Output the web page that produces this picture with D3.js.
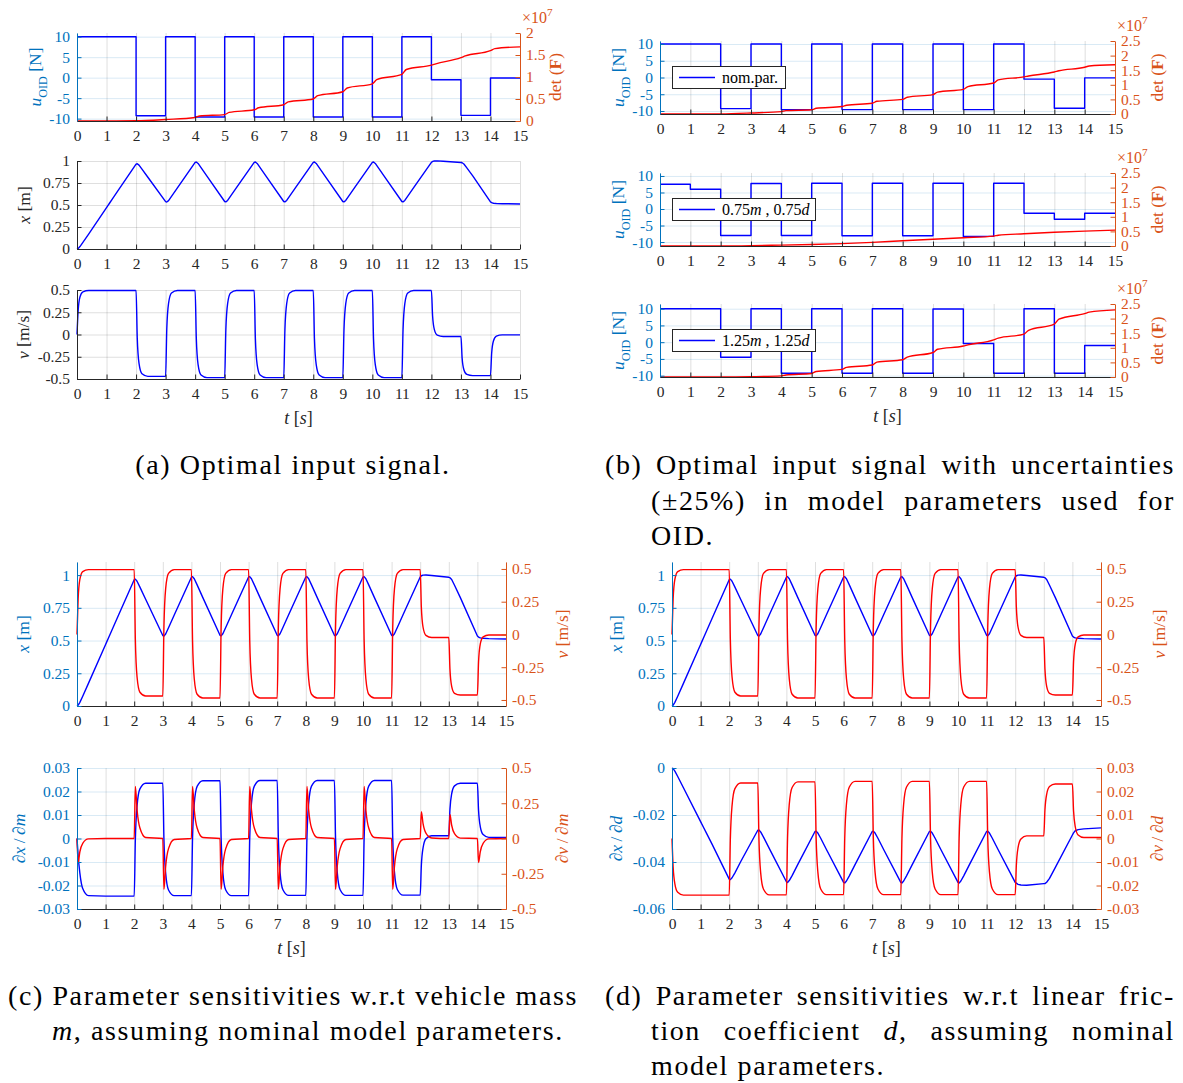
<!DOCTYPE html>
<html>
<head>
<meta charset="utf-8">
<script src="https://cdn.jsdelivr.net/npm/d3@7"></script>
<style>
  body { margin: 0; background: #fff; }
  svg, text { font-family: "Liberation Serif", "DejaVu Serif", "Times New Roman", serif; }
</style>
</head>
<body>
<svg id="fig" width="1183" height="1083"></svg>
<script>
// ---------- data ----------
const tTicks = [0,1,2,3,4,5,6,7,8,9,10,11,12,13,14,15];

// input force per 1-second interval [N]
const uNom  = [10, 10, -9.3, 10, -9.6, 10, -9.6, 10, -9.6, 10, -9.6, 10, -0.5, -9.2, -0.1];
const uLow  = [7.5, 6.0, -8.0, 7.7, -8.0, 7.8, -8.1, 7.8, -8.1, 7.8, -8.3, 7.8, -1.3, -3.1, -1.3];
const uHigh = [10, 10, -4.5, 10, -9.3, 10, -9.3, 10, -9.3, 9.9, -0.4, -9.3, 10, -9.3, -1.0];

// det(F) in units of 1e7, as [t, value]
const detNom = [[0,0],[1,0],[2,0.005],[3,0.035],[4,0.08],[4.15,0.115],[5,0.145],[5.15,0.195],[6,0.255],[6.15,0.3],
  [7,0.37],[7.15,0.435],[8,0.5],[8.15,0.575],[9,0.665],[9.15,0.75],[10,0.845],[10.15,0.94],[11,1.06],[11.15,1.17],
  [12,1.27],[12.15,1.3],[13,1.44],[13.15,1.48],[14,1.6],[14.15,1.645],[15,1.685]];
const detLow = [[0,0],[2,0],[3,0.01],[4,0.03],[5,0.05],[6,0.08],[7,0.125],[8,0.18],[9,0.23],[10,0.285],[11,0.34],
  [11.15,0.37],[12,0.42],[13,0.47],[14,0.51],[15,0.545]];
const detHigh = [[0,0],[2,0],[3,0.01],[4,0.04],[4.15,0.07],[5,0.12],[5.15,0.19],[6,0.26],[6.15,0.33],[7,0.41],
  [7.15,0.51],[8,0.59],[8.15,0.68],[9,0.84],[9.15,0.95],[10,1.06],[10.15,1.1],[11,1.27],[11.15,1.33],[12,1.47],
  [12.15,1.6],[13,1.81],[13.15,1.98],[14,2.17],[14.15,2.22],[15,2.3]];

// simulation time samples
const tGrid = [0,0.04,0.1,0.2,0.4, 1,1.04,1.1,1.2,1.4, 2,2.04,2.1,2.2,2.4, 3,3.04,3.1,3.2,3.4,
  4,4.04,4.1,4.2,4.4, 5,5.04,5.1,5.2,5.4, 6,6.04,6.1,6.2,6.4, 7,7.04,7.1,7.2,7.4,
  8,8.04,8.1,8.2,8.4, 9,9.04,9.1,9.2,9.4, 10,10.04,10.1,10.2,10.4, 11,11.04,11.1,11.2,11.4,
  12,12.04,12.1,12.2,12.4, 13,13.04,13.1,13.2,13.4, 14,14.04,14.1,14.2,14.4, 15];

// position x [m]
const xNom = [0,0.006,0.028,0.075,0.173, 0.47,0.49,0.52,0.569,0.668, 0.965,0.969,0.953,0.908,0.815,
  0.538,0.534,0.55,0.598,0.695, 0.984,0.988,0.972,0.925,0.828, 0.54,0.536,0.552,0.6,0.697,
  0.985,0.988,0.972,0.925,0.828, 0.54,0.536,0.552,0.6,0.697, 0.985,0.988,0.972,0.925,0.828,
  0.54,0.536,0.552,0.6,0.697, 0.985,0.988,0.972,0.925,0.828, 0.54,0.536,0.552,0.6,0.697,
  0.985,0.995,1.0,1.001,0.997, 0.983,0.98,0.966,0.922,0.83, 0.535,0.527,0.52,0.517,0.515, 0.512];

// velocity v [m/s]
const vNom = [0,0.272,0.421,0.48,0.495, 0.495,0.495,0.495,0.495,0.495, 0.495,-0.036,-0.325,-0.441,-0.47,
  -0.47,0.061,0.35,0.466,0.495, 0.495,-0.044,-0.338,-0.456,-0.485, -0.485,0.054,0.348,0.466,0.495,
  0.495,-0.044,-0.338,-0.456,-0.485, -0.485,0.054,0.348,0.466,0.495, 0.495,-0.044,-0.338,-0.456,-0.485,
  -0.485,0.054,0.348,0.466,0.495, 0.495,-0.044,-0.338,-0.456,-0.485, -0.485,0.054,0.348,0.466,0.495,
  0.495,0.21,0.055,-0.007,-0.023, -0.023,-0.264,-0.396,-0.449,-0.462, -0.462,-0.21,-0.073,-0.018,-0.004, -0.004];

// sensitivities w.r.t. mass m
const dxdm = [0,-0.0074,-0.0147,-0.0213,-0.0243, -0.0245,-0.0245,-0.0245,-0.0245,-0.0245,
  -0.0245,-0.0005,0.0139,0.0211,0.0235, 0.0235,-0.0004,-0.0147,-0.0219,-0.0243,
  -0.0243,0.0002,0.0148,0.0222,0.0246, 0.0246,0.0002,-0.0145,-0.0219,-0.0243,
  -0.0243,0.0002,0.0149,0.0223,0.0247, 0.0247,0.0003,-0.0144,-0.0218,-0.0242,
  -0.0242,0.0003,0.0149,0.0223,0.0247, 0.0247,0.0003,-0.0144,-0.0218,-0.0242,
  -0.0242,0.0003,0.0149,0.0223,0.0247, 0.0247,0.0003,-0.0143,-0.0217,-0.0241,
  -0.0241,-0.0115,-0.004,-0.0001,0.0012, 0.0012,0.0124,0.019,0.0224,0.0235,
  0.0235,0.012,0.0051,0.0017,0.0005, 0.0005];
const dvdm = [0,-0.17,-0.094,-0.034,-0.003, 0,0,0,0,0,
  0,0.37,0.204,0.074,0.007, 0,-0.36,-0.198,-0.072,-0.007,
  0,0.37,0.204,0.074,0.007, 0,-0.36,-0.198,-0.072,-0.007,
  0,0.37,0.204,0.074,0.007, 0,-0.36,-0.198,-0.072,-0.007,
  0,0.37,0.204,0.074,0.007, 0,-0.36,-0.198,-0.072,-0.007,
  0,0.37,0.204,0.074,0.007, 0,-0.36,-0.198,-0.072,-0.007,
  0,0.19,0.105,0.038,0.004, 0,0.17,0.094,0.034,0.003,
  0,-0.17,-0.094,-0.034,-0.003, 0];

// sensitivities w.r.t. friction d
const dxdd = [0,-0.0003,-0.0013,-0.0036,-0.0084, -0.0228,-0.0238,-0.0252,-0.0276,-0.0324,
  -0.0473,-0.0475,-0.0467,-0.0446,-0.0399, -0.0265,-0.0264,-0.0272,-0.0294,-0.0342,
  -0.0484,-0.0487,-0.0479,-0.0458,-0.041, -0.027,-0.0269,-0.0277,-0.0299,-0.0347,
  -0.0487,-0.0489,-0.0481,-0.0459,-0.0411, -0.027,-0.0269,-0.0277,-0.0299,-0.0347,
  -0.0487,-0.0489,-0.0481,-0.0459,-0.0411, -0.027,-0.0269,-0.0277,-0.0299,-0.0347,
  -0.0487,-0.0489,-0.0481,-0.0459,-0.0411, -0.027,-0.0269,-0.0277,-0.0299,-0.0347,
  -0.0487,-0.049,-0.0495,-0.0498,-0.0499, -0.0492,-0.0492,-0.0486,-0.047,-0.0424,
  -0.0285,-0.0276,-0.0267,-0.0262,-0.0259, -0.0255];
const dvdd = [0,-0.012,-0.0193,-0.0229,-0.0241, -0.0241,-0.0241,-0.0241,-0.0241,-0.0241,
  -0.0241,-0.0003,0.014,0.0212,0.0236, 0.0236,-0.0002,-0.0145,-0.0216,-0.024,
  -0.024,0.0001,0.0145,0.0217,0.0241, 0.0241,0.0001,-0.0143,-0.0215,-0.0239,
  -0.0239,0.0002,0.0147,0.0219,0.0243, 0.0243,0.0002,-0.0143,-0.0215,-0.0239,
  -0.0239,0.0002,0.0147,0.0219,0.0243, 0.0243,0.0002,-0.0143,-0.0215,-0.0239,
  -0.0239,0.0002,0.0147,0.0219,0.0243, 0.0243,0.0002,-0.0143,-0.0215,-0.0239,
  -0.0239,-0.0114,-0.0039,-0.0002,0.0011, 0.0011,0.0122,0.0188,0.0221,0.0232,
  0.0232,0.0118,0.005,0.0015,0.0004, 0.0004];

// ---------- drawing ----------
const SERIF = '"Liberation Serif", "DejaVu Serif", "Times New Roman", serif';
const BLUE = '#0000ff', RED = '#ff0000';
const AXB = '#0072bd', AXR = '#d95319', AXK = '#262626';
const GRID_K = 'rgba(38,38,38,0.15)', GRID_B = 'rgba(0,114,189,0.15)';
const TICK = 4.5, TFS = 15.5, LFS = 17.5;
const svg = d3.select('#fig').attr('font-family', SERIF);

const zip = (t, v) => t.map((d, i) => [d, v[i]]);
const stepPts = u => u.map((v, i) => [i, v]).concat([[u.length, u[u.length - 1]]]);
const fmt = d => String(+(+d).toFixed(4));
const CURVES = {step: d3.curveStepAfter, linear: d3.curveLinear, smooth: d3.curveMonotoneX};

function rich(sel, parts, size) {
  let shift = 0;
  parts.forEach(p => {
    const ts = sel.append('tspan').text(p.t);
    if (p.i) ts.attr('font-style', 'italic');
    if (p.b) ts.attr('font-weight', 'bold');
    let target = 0;
    if (p.sub) { ts.attr('font-size', size * 0.7); target = size * 0.3; }
    if (p.sup) { ts.attr('font-size', size * 0.7); target = -size * 0.42; }
    if (target !== shift) { ts.attr('dy', target - shift); shift = target; }
  });
}

function vlabel(cx, cy, parts, color, size) {
  const t = svg.append('text')
    .attr('transform', `translate(${cx + size * 0.3},${cy}) rotate(-90)`)
    .attr('text-anchor', 'middle').attr('font-size', size).attr('fill', color);
  rich(t, parts, size);
}

function styleAxis(a, col) {
  a.attr('font-size', TFS).attr('font-family', SERIF);
  a.select('.domain').attr('stroke', col);
  a.selectAll('.tick line').attr('stroke', col);
  a.selectAll('.tick text').attr('fill', col);
}

function drawPanel(p) {
  const g = svg.append('g');
  const x = d3.scaleLinear().domain([0, 15]).range([p.x0, p.x1]);
  const yL = d3.scaleLinear().domain(p.L.dom).range([p.y1, p.y0]);
  const yR = p.R ? d3.scaleLinear().domain(p.R.dom).range([p.y1, p.y0]) : null;
  const W = p.x1 - p.x0, H = p.y1 - p.y0;

  // grid
  const gx = g.append('g').attr('transform', `translate(0,${p.y1})`)
    .call(d3.axisBottom(x).tickValues(tTicks).tickSize(-H).tickFormat(''));
  gx.select('.domain').remove();
  gx.selectAll('line').attr('stroke', GRID_K);
  const gy = g.append('g').attr('transform', `translate(${p.x0},0)`)
    .call(d3.axisLeft(yL).tickValues(p.L.ticks).tickSize(-W).tickFormat(''));
  gy.select('.domain').remove();
  gy.selectAll('line').attr('stroke', p.R ? GRID_B : GRID_K);

  // data
  p.lines.forEach(s => {
    const ys = s.side === 'R' ? yR : yL;
    const ln = d3.line().x(d => x(d[0])).y(d => ys(d[1])).curve(CURVES[s.curve || 'smooth']);
    g.append('path').datum(s.pts).attr('d', ln).attr('fill', 'none')
      .attr('stroke', s.col).attr('stroke-width', 1.4).attr('stroke-linejoin', 'round');
  });

  // axes
  const ax = g.append('g').attr('transform', `translate(0,${p.y1})`)
    .call(d3.axisBottom(x).tickValues(tTicks).tickSize(-TICK).tickSizeOuter(0).tickPadding(9).tickFormat(fmt));
  styleAxis(ax, AXK);
  const lcol = p.R ? AXB : AXK;
  const al = g.append('g').attr('transform', `translate(${p.x0},0)`)
    .call(d3.axisLeft(yL).tickValues(p.L.ticks).tickSize(-TICK).tickSizeOuter(0).tickPadding(7).tickFormat(fmt));
  styleAxis(al, lcol);
  vlabel(p.L.labX, (p.y0 + p.y1) / 2, p.L.lab, lcol, LFS);

  if (p.R) {
    const ar = g.append('g').attr('transform', `translate(${p.x1},0)`)
      .call(d3.axisRight(yR).tickValues(p.R.ticks).tickSize(-TICK).tickSizeOuter(0).tickPadding(6).tickFormat(fmt));
    styleAxis(ar, AXR);
    vlabel(p.R.labX, (p.y0 + p.y1) / 2, p.R.lab, AXR, LFS);
    if (p.R.exp) {
      const e = svg.append('text').attr('x', p.x1 + 2).attr('y', p.y0 - 10)
        .attr('font-size', 16).attr('fill', AXR);
      rich(e, [{t: '×10'}, {t: '7', sup: 1}], 16);
    }
  }

  if (p.xlab) {
    const t = svg.append('text').attr('x', (p.x0 + p.x1) / 2).attr('y', p.y1 + 45)
      .attr('text-anchor', 'middle').attr('font-size', 18).attr('fill', AXK);
    rich(t, [{t: 't', i: 1}, {t: ' ['}, {t: 's', i: 1}, {t: ']'}], 18);
  }

  if (p.legend) {
    const lx = p.x0 + 12, ly = p.y0 + 25;
    g.append('rect').attr('x', lx + 0.5).attr('y', ly + 0.5).attr('width', p.legend.w).attr('height', 22)
      .attr('fill', '#fff').attr('stroke', AXK).attr('stroke-width', 1);
    g.append('line').attr('x1', lx + 7).attr('x2', lx + 43).attr('y1', ly + 11.5).attr('y2', ly + 11.5)
      .attr('stroke', BLUE).attr('stroke-width', 1.4);
    const t = g.append('text').attr('x', lx + 50).attr('y', ly + 16.5).attr('font-size', 16).attr('fill', '#000');
    rich(t, p.legend.parts, 16);
  }
}

const uLab = [{t: 'u', i: 1}, {t: 'OID', sub: 1}, {t: ' [N]'}];
const detLab = [{t: 'det ('}, {t: 'F', b: 1}, {t: ')'}];
const xLab = [{t: 'x', i: 1}, {t: ' [m]'}];
const vLab = [{t: 'v', i: 1}, {t: ' [m/s]'}];
const uTicks = [-10, -5, 0, 5, 10];
const detTicksA = [0, 0.5, 1, 1.5, 2];
const detTicksB = [0, 0.5, 1, 1.5, 2, 2.5];
const xTicks = [0, 0.25, 0.5, 0.75, 1];
const vTicks = [-0.5, -0.25, 0, 0.25, 0.5];

const panels = [
  // (a)
  {x0: 77, x1: 520, y0: 33, y1: 121,
   L: {dom: [-10.58, 10.9], ticks: uTicks, lab: uLab, labX: 36},
   R: {dom: [0, 2], ticks: detTicksA, lab: detLab, labX: 556, exp: true},
   lines: [{pts: stepPts(uNom), col: BLUE, curve: 'step'}, {pts: detNom, side: 'R', col: RED}]},
  {x0: 77, x1: 520, y0: 161, y1: 249,
   L: {dom: [0, 1], ticks: xTicks, lab: xLab, labX: 25},
   lines: [{pts: zip(tGrid, xNom), col: BLUE, curve: 'linear'}]},
  {x0: 77, x1: 520, y0: 290, y1: 379, xlab: true,
   L: {dom: [-0.5, 0.5], ticks: vTicks, lab: vLab, labX: 24},
   lines: [{pts: zip(tGrid, vNom), col: BLUE}]},
  // (b)
  {x0: 660, x1: 1115, y0: 41, y1: 114,
   L: {dom: [-10.9, 10.9], ticks: uTicks, lab: uLab, labX: 619},
   R: {dom: [0, 2.5], ticks: detTicksB, lab: detLab, labX: 1158, exp: true},
   legend: {w: 113, parts: [{t: 'nom.par.'}]},
   lines: [{pts: stepPts(uNom), col: BLUE, curve: 'step'}, {pts: detNom, side: 'R', col: RED}]},
  {x0: 660, x1: 1115, y0: 173, y1: 246,
   L: {dom: [-11.2, 10.9], ticks: uTicks, lab: uLab, labX: 619},
   R: {dom: [0, 2.5], ticks: detTicksB, lab: detLab, labX: 1158, exp: true},
   legend: {w: 143, parts: [{t: '0.75'}, {t: 'm', i: 1}, {t: ' , 0.75'}, {t: 'd', i: 1}]},
   lines: [{pts: stepPts(uLow), col: BLUE, curve: 'step'}, {pts: detLow, side: 'R', col: RED}]},
  {x0: 660, x1: 1115, y0: 304, y1: 377, xlab: true,
   L: {dom: [-10.4, 11.4], ticks: uTicks, lab: uLab, labX: 619},
   R: {dom: [0, 2.5], ticks: detTicksB, lab: detLab, labX: 1158, exp: true},
   legend: {w: 143, parts: [{t: '1.25'}, {t: 'm', i: 1}, {t: ' , 1.25'}, {t: 'd', i: 1}]},
   lines: [{pts: stepPts(uHigh), col: BLUE, curve: 'step'}, {pts: detHigh, side: 'R', col: RED}]},
  // (c)
  {x0: 77, x1: 506, y0: 562, y1: 706,
   L: {dom: [0, 1.1], ticks: xTicks, lab: xLab, labX: 24},
   R: {dom: [-0.546, 0.553], ticks: vTicks, lab: vLab, labX: 563},
   lines: [{pts: zip(tGrid, xNom), col: BLUE, curve: 'linear'}, {pts: zip(tGrid, vNom), side: 'R', col: RED}]},
  {x0: 77, x1: 506, y0: 768, y1: 909, xlab: true,
   L: {dom: [-0.03, 0.03], ticks: [-0.03, -0.02, -0.01, 0, 0.01, 0.02, 0.03],
       lab: [{t: '∂'}, {t: 'x', i: 1}, {t: '\u2009/\u2009∂'}, {t: 'm', i: 1}], labX: 20},
   R: {dom: [-0.5, 0.5], ticks: vTicks,
       lab: [{t: '∂'}, {t: 'v', i: 1}, {t: '\u2009/\u2009∂'}, {t: 'm', i: 1}], labX: 563},
   lines: [{pts: zip(tGrid, dxdm), col: BLUE}, {pts: zip(tGrid, dvdm), side: 'R', col: RED}]},
  // (d)
  {x0: 672, x1: 1101, y0: 562, y1: 706,
   L: {dom: [0, 1.1], ticks: xTicks, lab: xLab, labX: 617},
   R: {dom: [-0.546, 0.553], ticks: vTicks, lab: vLab, labX: 1160},
   lines: [{pts: zip(tGrid, xNom), col: BLUE, curve: 'linear'}, {pts: zip(tGrid, vNom), side: 'R', col: RED}]},
  {x0: 672, x1: 1101, y0: 768, y1: 909, xlab: true,
   L: {dom: [-0.06, 0], ticks: [-0.06, -0.04, -0.02, 0],
       lab: [{t: '∂'}, {t: 'x', i: 1}, {t: '\u2009/\u2009∂'}, {t: 'd', i: 1}], labX: 617},
   R: {dom: [-0.03, 0.03], ticks: [-0.03, -0.02, -0.01, 0, 0.01, 0.02, 0.03],
       lab: [{t: '∂'}, {t: 'v', i: 1}, {t: '\u2009/\u2009∂'}, {t: 'd', i: 1}], labX: 1158},
   lines: [{pts: zip(tGrid, dxdd), col: BLUE, curve: 'linear'}, {pts: zip(tGrid, dvdd), side: 'R', col: RED}]}
];
panels.forEach(drawPanel);

// ---------- sub-figure captions ----------
const CFS = 28, CLS = 1.6;
function capLine(x0, x1, y, parts, mode) {
  const t = svg.append('text').attr('font-size', CFS).attr('fill', '#000')
    .attr('font-family', SERIF).style('letter-spacing', CLS + 'px')
    .attr('x', x0).attr('y', y);
  rich(t, parts, CFS);
  if (mode === 'center') { t.attr('text-anchor', 'middle'); return; }
  if (mode === 'justify') {
    const w = t.node().getComputedTextLength();
    const nsp = parts.map(p => p.t).join('').split(' ').length - 1;
    const extra = (x1 - x0 - w) / nsp;
    t.style('word-spacing', extra + 'px');
  }
}
capLine(293, 0, 474, [{t: '(a) Optimal input signal.'}], 'center');
capLine(605, 1175, 474, [{t: '(b) Optimal input signal with uncertainties'}], 'justify');
capLine(651, 1175, 510, [{t: '(±25%) in model parameters used for'}], 'justify');
capLine(651, 0, 545, [{t: 'OID.'}], 'left');
capLine(8, 578, 1005, [{t: '(c) Parameter sensitivities w.r.t vehicle mass'}], 'justify');
capLine(52, 0, 1040, [{t: 'm', i: 1}, {t: ', assuming nominal model parameters.'}], 'left');
capLine(605, 1175, 1005, [{t: '(d) Parameter sensitivities w.r.t linear fric-'}], 'justify');
capLine(651, 1175, 1040, [{t: 'tion coefficient '}, {t: 'd', i: 1}, {t: ', assuming nominal'}], 'justify');
capLine(651, 0, 1075, [{t: 'model parameters.'}], 'left');
</script>
</body>
</html>
